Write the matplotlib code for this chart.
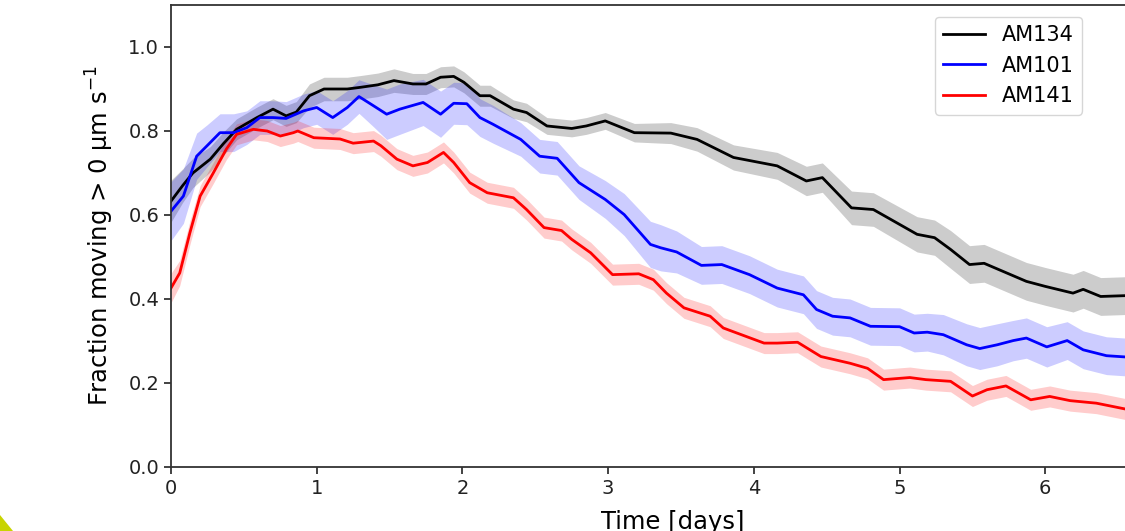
import matplotlib
matplotlib.use("Agg")
import matplotlib.pyplot as plt
from matplotlib.patches import Polygon

# AM134 (black)
am134_t = [0.00, 0.08, 0.15, 0.27, 0.36, 0.45, 0.59, 0.70, 0.79, 0.86, 0.95, 1.05,
           1.21, 1.30, 1.42, 1.53, 1.66, 1.75, 1.85, 1.94, 2.01, 2.12, 2.19, 2.35,
           2.44, 2.58, 2.75, 2.85, 2.98, 3.18, 3.43, 3.61, 3.86, 4.16, 4.36, 4.47,
           4.67, 4.82, 5.12, 5.24, 5.35, 5.48, 5.58, 5.87, 6.00, 6.19, 6.26, 6.38,
           6.55, 6.70]
am134_y = [0.633, 0.670, 0.700, 0.733, 0.770, 0.804, 0.832, 0.852, 0.836, 0.845, 0.884, 0.900,
           0.900, 0.904, 0.910, 0.920, 0.912, 0.912, 0.928, 0.930, 0.916, 0.884, 0.884, 0.852,
           0.844, 0.812, 0.806, 0.812, 0.824, 0.796, 0.795, 0.780, 0.737, 0.717, 0.681, 0.689,
           0.617, 0.613, 0.554, 0.546, 0.518, 0.482, 0.485, 0.442, 0.430, 0.414, 0.423, 0.406,
           0.408, 0.405]
am134_e = [0.050, 0.040, 0.035, 0.030, 0.028, 0.025, 0.025, 0.025, 0.025, 0.025, 0.028, 0.028,
           0.028, 0.028, 0.028, 0.028, 0.025, 0.025, 0.025, 0.025, 0.025, 0.025, 0.025, 0.022,
           0.022, 0.020, 0.020, 0.020, 0.020, 0.022, 0.025, 0.028, 0.030, 0.032, 0.035, 0.035,
           0.040, 0.040, 0.042, 0.042, 0.045, 0.045, 0.045, 0.045, 0.045, 0.045, 0.045, 0.045,
           0.045, 0.045]

# AM101 (blue)
am101_t = [0.00, 0.085, 0.176, 0.245, 0.336, 0.43, 0.52, 0.61, 0.70, 0.79, 0.91, 1.00,
           1.11, 1.21, 1.29, 1.39, 1.48, 1.57, 1.73, 1.85, 1.94, 2.03, 2.12, 2.21,
           2.40, 2.53, 2.65, 2.80, 2.98, 3.11, 3.29, 3.36, 3.47, 3.64, 3.78, 3.97,
           4.16, 4.34, 4.43, 4.54, 4.66, 4.80, 5.00, 5.10, 5.19, 5.30, 5.46, 5.55,
           5.67, 5.78, 5.87, 6.01, 6.15, 6.26, 6.42, 6.55, 6.70]
am101_y = [0.609, 0.645, 0.740, 0.764, 0.796, 0.796, 0.808, 0.832, 0.832, 0.830, 0.848, 0.856,
           0.832, 0.856, 0.882, 0.860, 0.840, 0.852, 0.868, 0.840, 0.866, 0.865, 0.832, 0.816,
           0.780, 0.740, 0.735, 0.677, 0.637, 0.601, 0.530, 0.522, 0.512, 0.480, 0.482, 0.458,
           0.426, 0.410, 0.375, 0.359, 0.355, 0.335, 0.334, 0.319, 0.321, 0.315, 0.291, 0.282,
           0.291, 0.301, 0.307, 0.286, 0.301, 0.279, 0.265, 0.262, 0.258]
am101_e = [0.070, 0.065, 0.055, 0.050, 0.045, 0.045, 0.040, 0.040, 0.040, 0.040, 0.040, 0.040,
           0.040, 0.040, 0.040, 0.050, 0.060, 0.060, 0.055, 0.055, 0.050, 0.050, 0.045, 0.045,
           0.040, 0.040, 0.040, 0.040, 0.045, 0.050, 0.055, 0.055, 0.050, 0.045, 0.045, 0.045,
           0.045, 0.045, 0.045, 0.045, 0.045, 0.045, 0.045, 0.045, 0.045, 0.048, 0.050, 0.050,
           0.050, 0.048, 0.048, 0.048, 0.045, 0.045, 0.045, 0.045, 0.045]

# AM141 (red)
am141_t = [0.00, 0.06, 0.13, 0.20, 0.29, 0.38, 0.45, 0.565, 0.66, 0.75, 0.84, 0.87,
           0.98, 1.16, 1.25, 1.39, 1.44, 1.55, 1.66, 1.76, 1.87, 1.94, 2.05, 2.17,
           2.35, 2.44, 2.56, 2.68, 2.75, 2.88, 3.03, 3.21, 3.31, 3.40, 3.52, 3.70,
           3.79, 4.07, 4.16, 4.30, 4.46, 4.66, 4.78, 4.89, 5.07, 5.18, 5.35, 5.50,
           5.60, 5.73, 5.90, 6.03, 6.17, 6.35, 6.55, 6.70]
am141_y = [0.426, 0.462, 0.558, 0.645, 0.700, 0.757, 0.792, 0.804, 0.800, 0.788, 0.796, 0.800,
           0.784, 0.781, 0.771, 0.776, 0.765, 0.733, 0.717, 0.725, 0.749, 0.725, 0.677, 0.653,
           0.641, 0.613, 0.570, 0.563, 0.542, 0.510, 0.458, 0.460, 0.446, 0.414, 0.379, 0.359,
           0.331, 0.295, 0.295, 0.297, 0.263, 0.247, 0.235, 0.208, 0.213, 0.208, 0.204, 0.169,
           0.184, 0.193, 0.160, 0.168, 0.158, 0.152, 0.138, 0.135]
am141_e = [0.035, 0.030, 0.028, 0.025, 0.025, 0.025, 0.025, 0.025, 0.025, 0.025, 0.025, 0.025,
           0.025, 0.025, 0.025, 0.025, 0.025, 0.025, 0.025, 0.025, 0.025, 0.025, 0.025, 0.025,
           0.025, 0.025, 0.025, 0.025, 0.025, 0.025, 0.025, 0.025, 0.025, 0.025, 0.025, 0.025,
           0.025, 0.025, 0.025, 0.025, 0.025, 0.025, 0.025, 0.025, 0.025, 0.025, 0.025, 0.025,
           0.025, 0.025, 0.025, 0.025, 0.025, 0.025, 0.025, 0.025]

SERIES = [
    ("AM134", am134_t, am134_y, am134_e, "black"),
    ("AM101", am101_t, am101_y, am101_e, "blue"),
    ("AM141", am141_t, am141_y, am141_e, "red"),
]

W, H = 1125, 531
fig = plt.figure(figsize=(W / 100, H / 100), dpi=100)
fig.patch.set_facecolor("white")

# axes run past the right edge of the picture, like the reference crop
ax = fig.add_axes([171 / W, (H - 467) / H, (1175 - 171) / W, 462 / H])

for name, t, y, e, col in SERIES:
    lo = [a - b for a, b in zip(y, e)]
    hi = [a + b for a, b in zip(y, e)]
    ax.fill_between(t, lo, hi, color=col, alpha=0.2, linewidth=0)
    ax.plot(t, y, color=col, lw=2.0, label=name)

ax.set_xlim(0, 6.89)
ax.set_ylim(0, 1.1)
ax.set_xticks([0, 1, 2, 3, 4, 5, 6])
ax.set_yticks([0.0, 0.2, 0.4, 0.6, 0.8, 1.0])
ax.set_yticklabels(["0.0", "0.2", "0.4", "0.6", "0.8", "1.0"])
ax.tick_params(labelsize=14, length=5, width=1.2, colors="#222222")
for s in ax.spines.values():
    s.set_linewidth(1.3)
    s.set_color("#333333")

ax.set_xlabel("Time [days]", fontsize=17.5, labelpad=9)
ax.set_ylabel(r"Fraction moving > 0 $\mathrm{\mu m\ s^{-1}}$", fontsize=17.5,
              labelpad=9)

ax.legend(loc="upper left", bbox_to_anchor=(935 / W, 1 - 17 / H),
          bbox_transform=fig.transFigure, borderaxespad=0, fontsize=15,
          handlelength=2.0, framealpha=0.8)

# little yellow-green corner shape at bottom left
fig.patches.append(Polygon([(0, 0), (0, 16 / H), (13 / W, 0)], closed=True,
                           transform=fig.transFigure, color="#c8d400",
                           linewidth=0))

fig.savefig("out.png", dpi=100)
